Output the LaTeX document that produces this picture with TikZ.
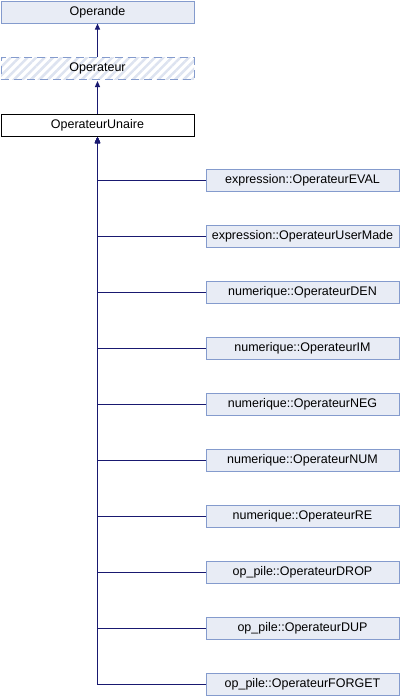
\documentclass[tikz,border=0pt]{standalone}
\usepackage{fontspec}
\setmainfont{Liberation Sans}
\usepackage{xcolor}
\usetikzlibrary{arrows.meta, positioning, patterns.meta}

\definecolor{boxfill}{RGB}{232,236,245}
\definecolor{boxdraw}{RGB}{132,155,205}
\definecolor{linkcol}{RGB}{25,25,112}
\definecolor{hatchcol}{RGB}{221,227,240}

\begin{document}
\begin{tikzpicture}[
    x=1pt, y=1pt,
    node distance=33pt and 11pt,
    box/.style={rectangle, draw=boxdraw, line width=1pt, fill=boxfill,
                minimum width=193pt, minimum height=22pt, inner sep=0pt,
                font=\fontsize{12.5}{15}\selectfont},
    abstractbox/.style={box, dash pattern=on 8pt off 5pt,
                pattern={Lines[angle=45, distance=6pt, line width=2.5pt]},
                pattern color=hatchcol},
    basebox/.style={box, draw=black, fill=white},
    arrow/.style={-{Triangle[length=6pt, width=5pt]}, draw=linkcol, line width=1pt}
]
\useasboundingbox (0,0) rectangle (400,-696);

%% -- Base classes
\node[box, anchor=north west] (operande) at (0.5,-0.5) {Operande};
\node[abstractbox, below=of operande]   (operateur) {Operateur};
\node[basebox, below=of operateur]      (unaire)    {OperateurUnaire};

\draw[arrow] (operateur) -- (operande);
\draw[arrow] (unaire)    -- (operateur);

%% -- Derived classes
\node[box, below right=32pt and 11pt of unaire.south east, anchor=north west] (eval)
      {expression::OperateurEVAL};
\node[box, below=of eval]     (usermade) {expression::OperateurUserMade};
\node[box, below=of usermade] (den)      {numerique::OperateurDEN};
\node[box, below=of den]      (im)       {numerique::OperateurIM};
\node[box, below=of im]       (neg)      {numerique::OperateurNEG};
\node[box, below=of neg]      (num)      {numerique::OperateurNUM};
\node[box, below=of num]      (re)       {numerique::OperateurRE};
\node[box, below=of re]       (drop)     {op\_pile::OperateurDROP};
\node[box, below=of drop]     (dup)      {op\_pile::OperateurDUP};
\node[box, below=of dup]      (forget)   {op\_pile::OperateurFORGET};

\foreach \c in {eval, usermade, den, im, neg, num, re, drop, dup, forget}
    \draw[arrow] (\c.west) -| (unaire.south);

\end{tikzpicture}
\end{document}
